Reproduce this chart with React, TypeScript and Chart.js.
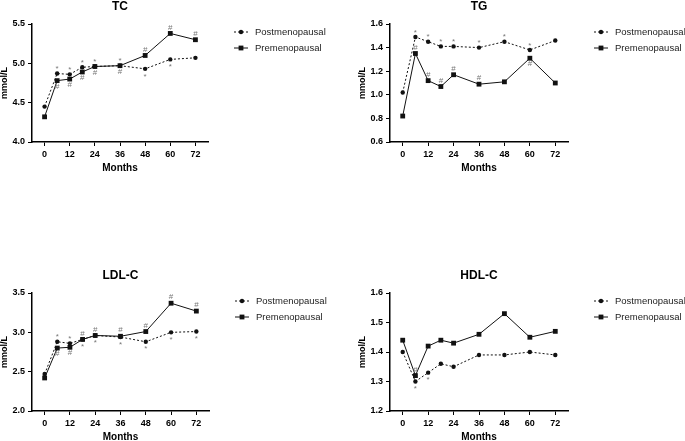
import React, { useEffect, useRef } from 'react';
import { Chart, registerables } from 'chart.js';
Chart.register(...registerables);

const months = [0, 6, 12, 18, 24, 36, 48, 60, 72];
const xTicks = [0, 12, 24, 36, 48, 60, 72];
const seriesNames = ['Postmenopausal', 'Premenopausal'];

const tcPost = [4.45, 4.87, 4.86, 4.95, 4.96, 4.97, 4.93, 5.05, 5.07];
const tcPre = [4.32, 4.78, 4.8, 4.89, 4.96, 4.97, 5.1, 5.38, 5.3];
const tcTicks = [4.0, 4.5, 5.0, 5.5];
const tcPostMarks = [0, 1, 1, 1, 1, 1, -1, -1, 0];
const tcPreMarks = [0, -1, -1, -1, -1, -1, 1, 1, 1];

const tgPost = [1.02, 1.49, 1.45, 1.41, 1.41, 1.4, 1.45, 1.38, 1.46];
const tgPre = [0.82, 1.35, 1.12, 1.07, 1.17, 1.09, 1.11, 1.31, 1.1];
const tgTicks = [0.6, 0.8, 1.0, 1.2, 1.4, 1.6];
const tgPostMarks = [0, 1, 1, 1, 1, 1, 1, 1, 0];
const tgPreMarks = [0, 1, 1, 1, 1, 1, 0, -1, 0];

const ldlPost = [2.47, 2.88, 2.86, 2.91, 2.96, 2.94, 2.88, 3.0, 3.01];
const ldlPre = [2.42, 2.8, 2.81, 2.91, 2.96, 2.95, 3.01, 3.37, 3.27];
const ldlTicks = [2.0, 2.5, 3.0, 3.5];
const ldlPostMarks = [0, 1, 1, -1, -1, -1, -1, -1, -1];
const ldlPreMarks = [0, -1, -1, 1, 1, 1, 1, 1, 1];

const hdlPost = [1.4, 1.3, 1.33, 1.36, 1.35, 1.39, 1.39, 1.4, 1.39];
const hdlPre = [1.44, 1.32, 1.42, 1.44, 1.43, 1.46, 1.53, 1.45, 1.47];
const hdlTicks = [1.2, 1.3, 1.4, 1.5, 1.6];
const hdlPostMarks = [0, -1, -1, 0, 0, 0, 0, 0, 0];
const hdlPreMarks = [0, 1, 0, 0, 0, 0, 0, 0, 0];

const FONT = 'Liberation Sans, Arial, Helvetica, sans-serif';
const INK = '#111';

type PanelProps = {
  title: string;
  post: number[];
  pre: number[];
  postMarks: number[];
  preMarks: number[];
  yTicks: number[];
  left: number;
  top: number;
  width: number;
  plotRight: number;
};

function Panel(p: PanelProps) {
  const ref = useRef<HTMLCanvasElement | null>(null);
  useEffect(() => {
    if (!ref.current) return;
    const marks = [p.postMarks, p.preMarks];
    const symbols = ['*', '#'];
    const decor = {
      id: 'decor',
      afterDatasetsDraw(chart: any) {
        const ctx = chart.ctx;
        const ca = chart.chartArea;
        ctx.save();
        // title
        ctx.fillStyle = '#000';
        ctx.font = `bold 12px ${FONT}`;
        ctx.textAlign = 'center';
        ctx.textBaseline = 'alphabetic';
        ctx.fillText(p.title, (ca.left + ca.right) / 2, 9.5);
        // significance marks
        ctx.font = `8px ${FONT}`;
        ctx.fillStyle = '#777';
        ctx.textBaseline = 'middle';
        for (let d = 0; d < 2; d++) {
          const meta = chart.getDatasetMeta(d);
          meta.data.forEach((pt: any, i: number) => {
            const m = marks[d][i];
            if (!m) return;
            const sym = symbols[d];
            const adj = sym === '*' ? 1.5 : 0;
            ctx.fillText(sym, pt.x, pt.y - m * 6 + adj);
          });
        }
        // legend
        const ys = [32, 48];
        const mx = ca.right + 33;
        for (let d = 0; d < 2; d++) {
          const y = ys[d];
          ctx.strokeStyle = INK;
          ctx.lineWidth = 1;
          ctx.setLineDash(d === 0 ? [2, 2] : []);
          ctx.beginPath();
          ctx.moveTo(mx - 7, y);
          ctx.lineTo(mx + 7, y);
          ctx.stroke();
          ctx.setLineDash([]);
          ctx.fillStyle = INK;
          if (d === 0) {
            ctx.beginPath();
            ctx.arc(mx, y, 2.2, 0, Math.PI * 2);
            ctx.fill();
          } else {
            ctx.fillRect(mx - 2.4, y - 2.4, 4.8, 4.8);
          }
          ctx.fillStyle = '#222';
          ctx.font = `9.5px ${FONT}`;
          ctx.textAlign = 'left';
          ctx.textBaseline = 'middle';
          ctx.fillText(seriesNames[d], ca.right + 47, y);
        }
        ctx.restore();
      },
    };
    const yMin = p.yTicks[0];
    const yMax = p.yTicks[p.yTicks.length - 1];
    const chart = new Chart(ref.current, {
      type: 'line',
      data: {
        labels: months,
        datasets: [
          {
            label: seriesNames[0],
            data: months.map((m, i) => ({ x: m, y: p.post[i] })),
            borderColor: INK,
            borderWidth: 1,
            borderDash: [2, 2],
            pointStyle: 'circle',
            pointRadius: 2.2,
            pointBackgroundColor: INK,
            pointBorderWidth: 0,
            tension: 0,
          },
          {
            label: seriesNames[1],
            data: months.map((m, i) => ({ x: m, y: p.pre[i] })),
            borderColor: INK,
            borderWidth: 1,
            pointStyle: 'rect',
            pointRadius: 3.4,
            pointBackgroundColor: INK,
            pointBorderWidth: 0,
            tension: 0,
          },
        ],
      },
      options: {
        animation: false,
        responsive: false,
        layout: { padding: { top: 24, left: 0, bottom: 0, right: p.width - p.plotRight } },
        plugins: { legend: { display: false }, tooltip: { enabled: false }, title: { display: false } },
        scales: {
          x: {
            type: 'linear',
            min: -6,
            max: 78,
            afterBuildTicks: (s: any) => {
              s.ticks = xTicks.map((v) => ({ value: v }));
            },
            afterFit: (s: any) => {
              s.height = 68;
            },
            ticks: {
              color: '#000',
              font: { family: FONT, size: 9, weight: 'bold' },
              padding: 3,
              maxRotation: 0,
              autoSkip: false,
            },
            grid: { drawOnChartArea: false, drawTicks: true, tickLength: 4, color: '#000', lineWidth: 1 },
            border: { display: true, color: '#000', width: 1.5 },
            title: {
              display: true,
              text: 'Months',
              color: '#000',
              font: { family: FONT, size: 10, weight: 'bold', lineHeight: 1.2 },
              padding: { top: 0, bottom: 36 },
            },
          },
          y: {
            type: 'linear',
            min: yMin,
            max: yMax,
            afterBuildTicks: (s: any) => {
              s.ticks = p.yTicks.map((v) => ({ value: v }));
            },
            afterFit: (s: any) => {
              s.width = 32;
            },
            ticks: {
              color: '#000',
              font: { family: FONT, size: 9, weight: 'bold' },
              padding: 3,
              callback: (v: any) => Number(v).toFixed(1),
            },
            grid: { drawOnChartArea: false, drawTicks: true, tickLength: 4, color: '#000', lineWidth: 1 },
            border: { display: true, color: '#000', width: 1.5 },
            title: {
              display: true,
              text: 'mmol/L',
              color: '#000',
              font: { family: FONT, size: 9, weight: 'bold', lineHeight: 1 },
              padding: 0,
            },
          },
        },
      } as any,
      plugins: [decor],
    });
    return () => chart.destroy();
  }, []);
  return (
    <canvas
      ref={ref}
      width={p.width}
      height={210}
      style={{ position: 'absolute', left: p.left, top: p.top, width: p.width, height: 210 }}
    />
  );
}

export default function App() {
  return (
    <div
      style={{
        position: 'absolute',
        left: 0,
        top: 0,
        width: 685,
        height: 441,
        overflow: 'hidden',
        background: '#fff',
      }}
    >
      <Panel title="TC" post={tcPost} pre={tcPre} postMarks={tcPostMarks} preMarks={tcPreMarks} yTicks={tcTicks} left={0} top={0} width={340} plotRight={208} />
      <Panel title="TG" post={tgPost} pre={tgPre} postMarks={tgPostMarks} preMarks={tgPreMarks} yTicks={tgTicks} left={358} top={0} width={327} plotRight={210} />
      <Panel title="LDL-C" post={ldlPost} pre={ldlPre} postMarks={ldlPostMarks} preMarks={ldlPreMarks} yTicks={ldlTicks} left={0} top={269} width={340} plotRight={209} />
      <Panel title="HDL-C" post={hdlPost} pre={hdlPre} postMarks={hdlPostMarks} preMarks={hdlPreMarks} yTicks={hdlTicks} left={358} top={269} width={327} plotRight={210} />
    </div>
  );
}
